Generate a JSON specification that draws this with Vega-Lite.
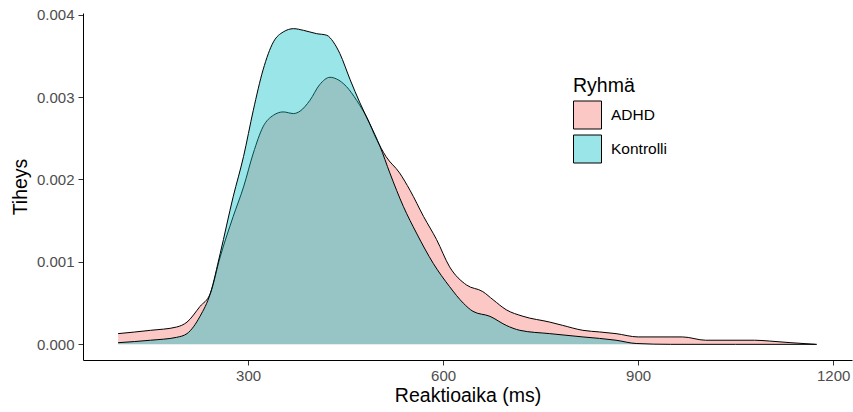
{
  "$schema": "https://vega.github.io/schema/vega-lite/v6.json",
  "width": 769,
  "height": 347,
  "autosize": {"type": "none"},
  "padding": {"left": 83, "top": 13, "right": 1, "bottom": 52},
  "background": "white",
  "config": {
    "view": {"stroke": null},
    "area": {"fillOpacity": 0.4},
    "axis": {
      "grid": false,
      "domainColor": "black",
      "domainWidth": 1,
      "tickColor": "#333333",
      "tickSize": 5,
      "labelColor": "#4D4D4D",
      "labelFont": "Liberation Sans",
      "labelFontSize": 15,
      "titleFont": "Liberation Sans",
      "titleFontSize": 19.5,
      "titleFontWeight": "normal",
      "titleColor": "black"
    },
    "legend": {
      "titleFont": "Liberation Sans",
      "titleFontSize": 19.5,
      "titleFontWeight": "normal",
      "titleColor": "black",
      "labelFont": "Liberation Sans",
      "labelFontSize": 15.5,
      "labelColor": "black"
    }
  },
  "datasets": {
    "dens": [
      {"aika": 100, "tiheys": 0.00013, "ryhma": "ADHD"},
      {"aika": 150, "tiheys": 0.00017, "ryhma": "ADHD"},
      {"aika": 190, "tiheys": 0.00021, "ryhma": "ADHD"},
      {"aika": 206, "tiheys": 0.00027, "ryhma": "ADHD"},
      {"aika": 226, "tiheys": 0.00046, "ryhma": "ADHD"},
      {"aika": 242, "tiheys": 0.00062, "ryhma": "ADHD"},
      {"aika": 257, "tiheys": 0.00106, "ryhma": "ADHD"},
      {"aika": 277, "tiheys": 0.00155, "ryhma": "ADHD"},
      {"aika": 293, "tiheys": 0.00191, "ryhma": "ADHD"},
      {"aika": 308, "tiheys": 0.00232, "ryhma": "ADHD"},
      {"aika": 323, "tiheys": 0.00264, "ryhma": "ADHD"},
      {"aika": 339, "tiheys": 0.00278, "ryhma": "ADHD"},
      {"aika": 354, "tiheys": 0.00282, "ryhma": "ADHD"},
      {"aika": 370, "tiheys": 0.00280, "ryhma": "ADHD"},
      {"aika": 380, "tiheys": 0.00283, "ryhma": "ADHD"},
      {"aika": 395, "tiheys": 0.00296, "ryhma": "ADHD"},
      {"aika": 410, "tiheys": 0.00315, "ryhma": "ADHD"},
      {"aika": 426, "tiheys": 0.00324, "ryhma": "ADHD"},
      {"aika": 436, "tiheys": 0.00322, "ryhma": "ADHD"},
      {"aika": 451, "tiheys": 0.00313, "ryhma": "ADHD"},
      {"aika": 467, "tiheys": 0.00296, "ryhma": "ADHD"},
      {"aika": 482, "tiheys": 0.00276, "ryhma": "ADHD"},
      {"aika": 498, "tiheys": 0.00248, "ryhma": "ADHD"},
      {"aika": 512, "tiheys": 0.00228, "ryhma": "ADHD"},
      {"aika": 533, "tiheys": 0.00208, "ryhma": "ADHD"},
      {"aika": 549, "tiheys": 0.00187, "ryhma": "ADHD"},
      {"aika": 570, "tiheys": 0.00155, "ryhma": "ADHD"},
      {"aika": 590, "tiheys": 0.00127, "ryhma": "ADHD"},
      {"aika": 610, "tiheys": 0.00094, "ryhma": "ADHD"},
      {"aika": 636, "tiheys": 0.00072, "ryhma": "ADHD"},
      {"aika": 661, "tiheys": 0.00064, "ryhma": "ADHD"},
      {"aika": 677, "tiheys": 0.00054, "ryhma": "ADHD"},
      {"aika": 697, "tiheys": 0.00042, "ryhma": "ADHD"},
      {"aika": 723, "tiheys": 0.00034, "ryhma": "ADHD"},
      {"aika": 764, "tiheys": 0.00027, "ryhma": "ADHD"},
      {"aika": 784, "tiheys": 0.00023, "ryhma": "ADHD"},
      {"aika": 815, "tiheys": 0.00017, "ryhma": "ADHD"},
      {"aika": 841, "tiheys": 0.00015, "ryhma": "ADHD"},
      {"aika": 866, "tiheys": 0.00013, "ryhma": "ADHD"},
      {"aika": 900, "tiheys": 0.00009, "ryhma": "ADHD"},
      {"aika": 968, "tiheys": 0.00009, "ryhma": "ADHD"},
      {"aika": 1004, "tiheys": 0.00005, "ryhma": "ADHD"},
      {"aika": 1079, "tiheys": 0.00005, "ryhma": "ADHD"},
      {"aika": 1102, "tiheys": 0.00004, "ryhma": "ADHD"},
      {"aika": 1135, "tiheys": 0.00002, "ryhma": "ADHD"},
      {"aika": 1173, "tiheys": 0.0, "ryhma": "ADHD"},
      {"aika": 100, "tiheys": 0.00002, "ryhma": "Kontrolli"},
      {"aika": 150, "tiheys": 0.00005, "ryhma": "Kontrolli"},
      {"aika": 190, "tiheys": 0.000085, "ryhma": "Kontrolli"},
      {"aika": 206, "tiheys": 0.00013, "ryhma": "Kontrolli"},
      {"aika": 226, "tiheys": 0.00034, "ryhma": "Kontrolli"},
      {"aika": 242, "tiheys": 0.00062, "ryhma": "Kontrolli"},
      {"aika": 257, "tiheys": 0.0011, "ryhma": "Kontrolli"},
      {"aika": 277, "tiheys": 0.00179, "ryhma": "Kontrolli"},
      {"aika": 293, "tiheys": 0.00228, "ryhma": "Kontrolli"},
      {"aika": 308, "tiheys": 0.00284, "ryhma": "Kontrolli"},
      {"aika": 323, "tiheys": 0.00333, "ryhma": "Kontrolli"},
      {"aika": 339, "tiheys": 0.00367, "ryhma": "Kontrolli"},
      {"aika": 354, "tiheys": 0.00379, "ryhma": "Kontrolli"},
      {"aika": 370, "tiheys": 0.00383, "ryhma": "Kontrolli"},
      {"aika": 385, "tiheys": 0.00381, "ryhma": "Kontrolli"},
      {"aika": 405, "tiheys": 0.00377, "ryhma": "Kontrolli"},
      {"aika": 421, "tiheys": 0.00375, "ryhma": "Kontrolli"},
      {"aika": 431, "tiheys": 0.00367, "ryhma": "Kontrolli"},
      {"aika": 441, "tiheys": 0.00353, "ryhma": "Kontrolli"},
      {"aika": 457, "tiheys": 0.00321, "ryhma": "Kontrolli"},
      {"aika": 472, "tiheys": 0.00293, "ryhma": "Kontrolli"},
      {"aika": 487, "tiheys": 0.00268, "ryhma": "Kontrolli"},
      {"aika": 503, "tiheys": 0.0024, "ryhma": "Kontrolli"},
      {"aika": 518, "tiheys": 0.00208, "ryhma": "Kontrolli"},
      {"aika": 539, "tiheys": 0.00167, "ryhma": "Kontrolli"},
      {"aika": 559, "tiheys": 0.00135, "ryhma": "Kontrolli"},
      {"aika": 585, "tiheys": 0.00098, "ryhma": "Kontrolli"},
      {"aika": 610, "tiheys": 0.0007, "ryhma": "Kontrolli"},
      {"aika": 631, "tiheys": 0.0005, "ryhma": "Kontrolli"},
      {"aika": 646, "tiheys": 0.0004, "ryhma": "Kontrolli"},
      {"aika": 672, "tiheys": 0.00034, "ryhma": "Kontrolli"},
      {"aika": 697, "tiheys": 0.00023, "ryhma": "Kontrolli"},
      {"aika": 718, "tiheys": 0.00017, "ryhma": "Kontrolli"},
      {"aika": 764, "tiheys": 0.00013, "ryhma": "Kontrolli"},
      {"aika": 815, "tiheys": 0.00009, "ryhma": "Kontrolli"},
      {"aika": 866, "tiheys": 0.00005, "ryhma": "Kontrolli"},
      {"aika": 897, "tiheys": 0.00001, "ryhma": "Kontrolli"},
      {"aika": 950, "tiheys": 0.0, "ryhma": "Kontrolli"},
      {"aika": 1050, "tiheys": 0.0, "ryhma": "Kontrolli"},
      {"aika": 1175, "tiheys": 0.0, "ryhma": "Kontrolli"}
    ]
  },
  "data": {"name": "dens"},
  "encoding": {
    "x": {
      "field": "aika",
      "type": "quantitative",
      "scale": {"domain": [46, 1229], "nice": false, "zero": false},
      "axis": {"values": [300, 600, 900, 1200], "format": "d", "title": "Reaktioaika (ms)", "labelPadding": 3, "titlePadding": 3}
    },
    "y": {
      "field": "tiheys",
      "type": "quantitative",
      "scale": {"domain": [-0.00019, 0.00402], "nice": false, "zero": false},
      "axis": {"values": [0, 0.001, 0.002, 0.003, 0.004], "format": ".3f", "title": "Tiheys", "labelPadding": 4, "titlePadding": 6}
    }
  },
  "layer": [
    {
      "transform": [{"filter": "datum.ryhma === 'ADHD'"}],
      "mark": {"type": "area", "interpolate": "monotone"},
      "encoding": {
        "y2": {"datum": 0},
        "fill": {
          "field": "ryhma",
          "type": "nominal",
          "scale": {"domain": ["ADHD", "Kontrolli"], "range": ["#F8766D", "#00BFC4"]},
          "legend": {
            "title": "Ryhmä",
            "orient": "none",
            "legendX": 490,
            "legendY": 64,
            "symbolType": "square",
            "symbolSize": 784,
            "symbolStrokeColor": "black",
            "symbolStrokeWidth": 1,
            "rowPadding": 1,
            "labelOffset": 9,
            "titlePadding": 4
          }
        }
      }
    },
    {
      "transform": [{"filter": "datum.ryhma === 'ADHD'"}],
      "mark": {"type": "line", "interpolate": "monotone", "color": "black", "strokeWidth": 1},
      "encoding": {}
    },
    {
      "transform": [{"filter": "datum.ryhma === 'Kontrolli'"}],
      "mark": {"type": "area", "interpolate": "monotone"},
      "encoding": {
        "y2": {"datum": 0},
        "fill": {"field": "ryhma", "type": "nominal"}
      }
    },
    {
      "transform": [{"filter": "datum.ryhma === 'Kontrolli'"}],
      "mark": {"type": "line", "interpolate": "monotone", "color": "black", "strokeWidth": 1},
      "encoding": {}
    }
  ]
}
